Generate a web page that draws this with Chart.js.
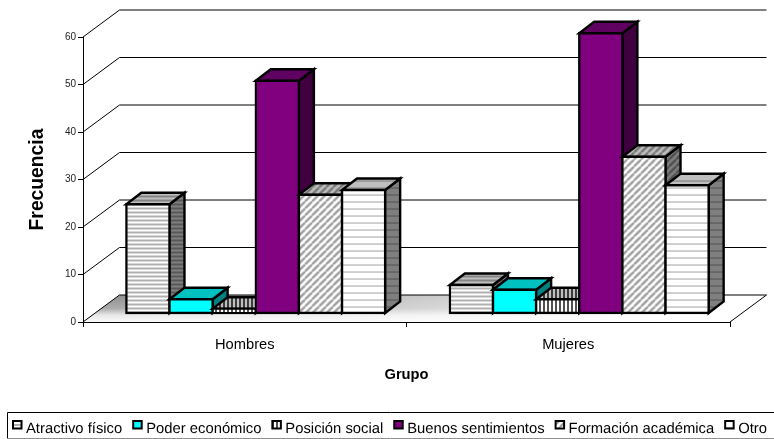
<!DOCTYPE html>
<html>
<head>
<meta charset="utf-8">
<title>Frecuencia por grupo</title>
<script src="https://cdn.jsdelivr.net/npm/chart.js@4/dist/chart.umd.min.js"></script>
<style>
  html,body{margin:0;padding:0;background:#fff;}
  canvas{display:block;}
</style>
</head>
<body>
<canvas id="chart" width="774" height="439"></canvas>
<script>
const categories = ['Hombres','Mujeres'];
const yTicks = [0,10,20,30,40,50,60];
const atractivoFisico = [23,6];
const poderEconomico = [3,5];
const posicionSocial = [1,3];
const buenosSentimientos = [49,59];
const formacionAcademica = [25,33];
const otro = [26,27];

const FONT = "'Liberation Sans', Arial, sans-serif";
const WALL = {dx:36.5, dy:-27};   // profundidad del piso
const BAR_SHIFT = {dx:11, dy:-8.5};
const BAR_DEPTH = {dx:15, dy:-11.5};
const EDGE = 2.4;

// tramas de relleno; shade oscurece para las caras superior y lateral
function hatch(kind, shade){
  const c = document.createElement('canvas');
  const size = {hdense:4, vdense:4, diag:7, hthin:7}[kind];
  c.width = c.height = size;
  const g = c.getContext('2d');
  g.fillStyle = '#fff';
  g.fillRect(0,0,size,size);
  if(kind === 'hdense'){
    g.fillStyle = '#b0b0b0';
    g.fillRect(0,0,size,2);
  }else if(kind === 'vdense'){
    g.fillStyle = '#505050';
    g.fillRect(0,0,2,size);
  }else if(kind === 'hthin'){
    g.fillStyle = '#a8a8a8';
    g.fillRect(0,0,size,1);
  }else{
    g.strokeStyle = '#a0a0a0';
    g.lineWidth = 2.4;
    [-size,0,size].forEach(o=>{
      g.beginPath();
      g.moveTo(o,size);
      g.lineTo(o+size,0);
      g.stroke();
    });
  }
  if(shade){
    g.fillStyle = 'rgba(0,0,0,'+shade+')';
    g.fillRect(0,0,size,size);
  }
  return g.createPattern(c,'repeat');
}

function fills(kind){
  return {front:hatch(kind,0), top:hatch(kind,0.25), side:hatch(kind,0.5)};
}

const looks = [
  fills('hdense'),
  {front:'#00ffff', top:'#00c0c0', side:'#008080'},
  fills('vdense'),
  {front:'#800080', top:'#600060', side:'#400040'},
  fills('diag'),
  fills('hthin')
];

const seriesNames = ['Atractivo físico','Poder económico','Posición social','Buenos sentimientos','Formación académica','Otro'];
const seriesValues = [atractivoFisico,poderEconomico,posicionSocial,buenosSentimientos,formacionAcademica,otro];

const datasets = seriesNames.map((name,i)=>({
  label:name,
  data:seriesValues[i],
  backgroundColor:looks[i].front,
  borderColor:'#000',
  borderWidth:EDGE,
  borderSkipped:false,
  inflateAmount:EDGE/2,
  categoryPercentage:0.8,
  barPercentage:1
}));

function poly(ctx, pts, fill, stroke, width){
  ctx.beginPath();
  pts.forEach((p,i)=> i ? ctx.lineTo(p[0],p[1]) : ctx.moveTo(p[0],p[1]));
  ctx.closePath();
  if(fill){ ctx.fillStyle = fill; ctx.fill(); }
  if(stroke){
    ctx.strokeStyle = stroke;
    ctx.lineWidth = width;
    ctx.lineJoin = 'miter';
    ctx.stroke();
  }
}

const fake3d = {
  id:'fake3d',
  // piso y lineas de la pared del fondo
  beforeDraw(chart){
    const ctx = chart.ctx, a = chart.chartArea, y = chart.scales.y;
    const bx = a.left + WALL.dx, by = a.bottom + WALL.dy;
    const floor = [[a.left,a.bottom],[bx,by],[a.right+WALL.dx,by],[a.right,a.bottom]];
    ctx.save();
    const h = ctx.createLinearGradient(bx,0,a.right-40,0);
    h.addColorStop(0,'#909090');
    h.addColorStop(0.5,'#c4c4c4');
    h.addColorStop(1,'#ffffff');
    poly(ctx,floor,h);
    const v = ctx.createLinearGradient(0,by,0,a.bottom);
    v.addColorStop(0,'rgba(255,255,255,0)');
    v.addColorStop(0.5,'rgba(255,255,255,0.25)');
    v.addColorStop(0.75,'rgba(255,255,255,0.8)');
    v.addColorStop(1,'rgba(255,255,255,0.95)');
    poly(ctx,floor,v);
    ctx.strokeStyle = '#000';
    ctx.lineWidth = 1;
    yTicks.forEach(t=>{
      const py = y.getPixelForValue(t);
      ctx.beginPath();
      ctx.moveTo(a.left,py);
      ctx.lineTo(bx,py+WALL.dy);
      ctx.lineTo(a.right+WALL.dx,py+WALL.dy);
      if(t === 0) ctx.lineTo(a.right,py);
      ctx.stroke();
    });
    ctx.restore();
  },
  // cada serie: caras de arriba y del costado, luego la frontal de Chart.js,
  // de izquierda a derecha para que se tapen como en el original
  beforeDatasetsDraw(chart){
    const ctx = chart.ctx;
    ctx.save();
    ctx.translate(BAR_SHIFT.dx,BAR_SHIFT.dy);
    chart.getSortedVisibleDatasetMetas().forEach(meta=>{
      const look = looks[meta.index];
      meta.data.forEach(el=>{
        const l = el.x - el.width/2, r = el.x + el.width/2;
        const dx = BAR_DEPTH.dx, dy = BAR_DEPTH.dy;
        poly(ctx,[[r,el.base],[r+dx,el.base+dy],[r+dx,el.y+dy],[r,el.y]],look.side,'#000',EDGE);
        poly(ctx,[[l,el.y],[l+dx,el.y+dy],[r+dx,el.y+dy],[r,el.y]],look.top,'#000',EDGE);
      });
      meta.controller.draw();
    });
    ctx.restore();
    return false;
  },
  // leyenda con recuadro
  afterDraw(chart){
    const ctx = chart.ctx;
    ctx.save();
    ctx.strokeStyle = '#000';
    ctx.lineWidth = 1;
    ctx.beginPath();
    ctx.moveTo(7.5,438);
    ctx.lineTo(7.5,412.5);
    ctx.lineTo(774,412.5);
    ctx.stroke();
    ctx.strokeStyle = '#909090';
    ctx.beginPath();
    ctx.moveTo(7,438.5);
    ctx.lineTo(774,438.5);
    ctx.stroke();
    ctx.font = '14.8px '+FONT;
    ctx.textRendering = 'geometricPrecision';
    ctx.textBaseline = 'alphabetic';
    let x = 12;
    chart.data.datasets.forEach((ds,i)=>{
      ctx.fillStyle = '#000';
      ctx.fillRect(x,420,10.5,9.5);
      ctx.fillStyle = looks[i].front;
      ctx.fillRect(x+2,422,6.5,5.5);
      ctx.fillStyle = '#000';
      ctx.fillText(ds.label,x+14,433);
      x += 14 + ctx.measureText(ds.label).width + 10;
    });
    ctx.restore();
  }
};

new Chart(document.getElementById('chart').getContext('2d'),{
  type:'bar',
  data:{labels:categories,datasets:datasets},
  plugins:[fake3d],
  options:{
    responsive:false,
    animation:false,
    layout:{padding:{left:26,right:44,top:37,bottom:55}},
    plugins:{legend:{display:false},tooltip:{enabled:false}},
    scales:{
      x:{
        afterFit:s=>{s.height = 62;},
        border:{color:'#000',width:1},
        grid:{drawOnChartArea:false,color:'#000',tickLength:5},
        ticks:{color:'#000',padding:9,font:{family:FONT,size:14.7}},
        title:{display:true,text:'Grupo',color:'#000',padding:0,font:{family:FONT,size:14.7,weight:'bold'}}
      },
      y:{
        min:0,
        max:60,
        afterFit:s=>{s.width = 57;},
        afterBuildTicks:s=>{s.ticks = yTicks.map(v=>({value:v}));},
        border:{color:'#000',width:1},
        grid:{drawOnChartArea:false,color:'#000',tickLength:5},
        ticks:{color:'#222',padding:2,font:{family:FONT,size:10}},
        title:{display:true,text:'Frecuencia',color:'#000',padding:0,font:{family:FONT,size:19.3,weight:'bold'}}
      }
    }
  }
});
</script>
</body>
</html>
